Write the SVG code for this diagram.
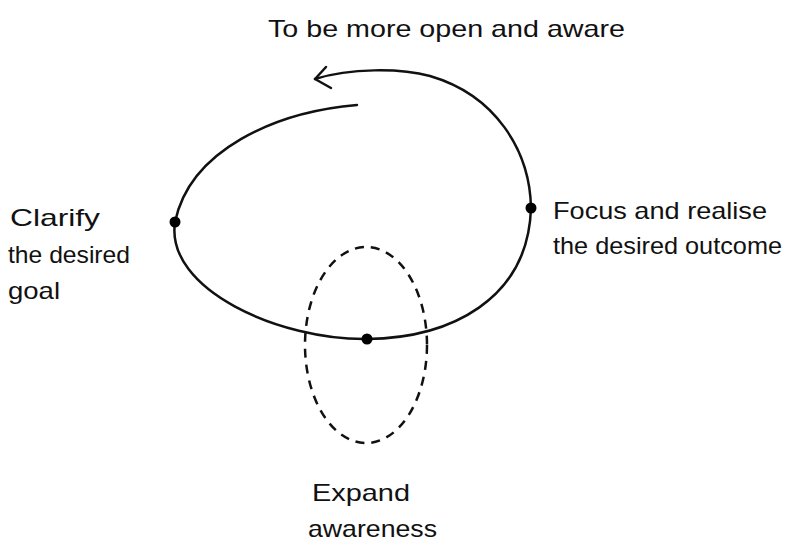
<svg xmlns="http://www.w3.org/2000/svg" width="786" height="548" viewBox="0 0 786 548">
<style>
.t{font-family:"Liberation Sans","DejaVu Sans",sans-serif;font-size:24px;fill:#111}
.line{fill:none;stroke:#111;stroke-width:2.5;stroke-linecap:round;stroke-linejoin:round}
.dash{fill:none;stroke:#111;stroke-width:2.5;stroke-dasharray:9 7}
.dot{fill:#000}
</style>
<rect width="786" height="548" fill="#fff"/>
<g id="connectors">
<path class="line" d="M357,105 C275,112 190,150 175,222 C165,290 280,340 367,339 C450,338 528,300 531,208 C530,150 495,95 430,76 C400,68 350,68 315,79"/>
<path class="line" d="M326,67 L315,79 L331,88"/>
</g>
<g id="expand-loop">
<ellipse class="dash" cx="366" cy="345" rx="61" ry="98"/>
</g>
<g id="node-top">
<text class="t" x="268" y="37" textLength="357" lengthAdjust="spacingAndGlyphs">To be more open and aware</text>
</g>
<g id="node-clarify">
<circle class="dot" cx="175" cy="222" r="5.5"/>
<text class="t" x="10" y="226" textLength="90" lengthAdjust="spacingAndGlyphs">Clarify</text>
<text class="t" x="8" y="263" textLength="122" lengthAdjust="spacingAndGlyphs">the desired</text>
<text class="t" x="8" y="299" textLength="52" lengthAdjust="spacingAndGlyphs">goal</text>
</g>
<g id="node-focus">
<circle class="dot" cx="531" cy="208" r="5.5"/>
<text class="t" x="553" y="219" textLength="214" lengthAdjust="spacingAndGlyphs">Focus and realise</text>
<text class="t" x="553" y="254" textLength="229" lengthAdjust="spacingAndGlyphs">the desired outcome</text>
</g>
<g id="node-expand">
<circle class="dot" cx="367" cy="339" r="5.5"/>
<text class="t" x="312" y="501" textLength="98" lengthAdjust="spacingAndGlyphs">Expand</text>
<text class="t" x="308" y="537" textLength="129" lengthAdjust="spacingAndGlyphs">awareness</text>
</g>
</svg>
